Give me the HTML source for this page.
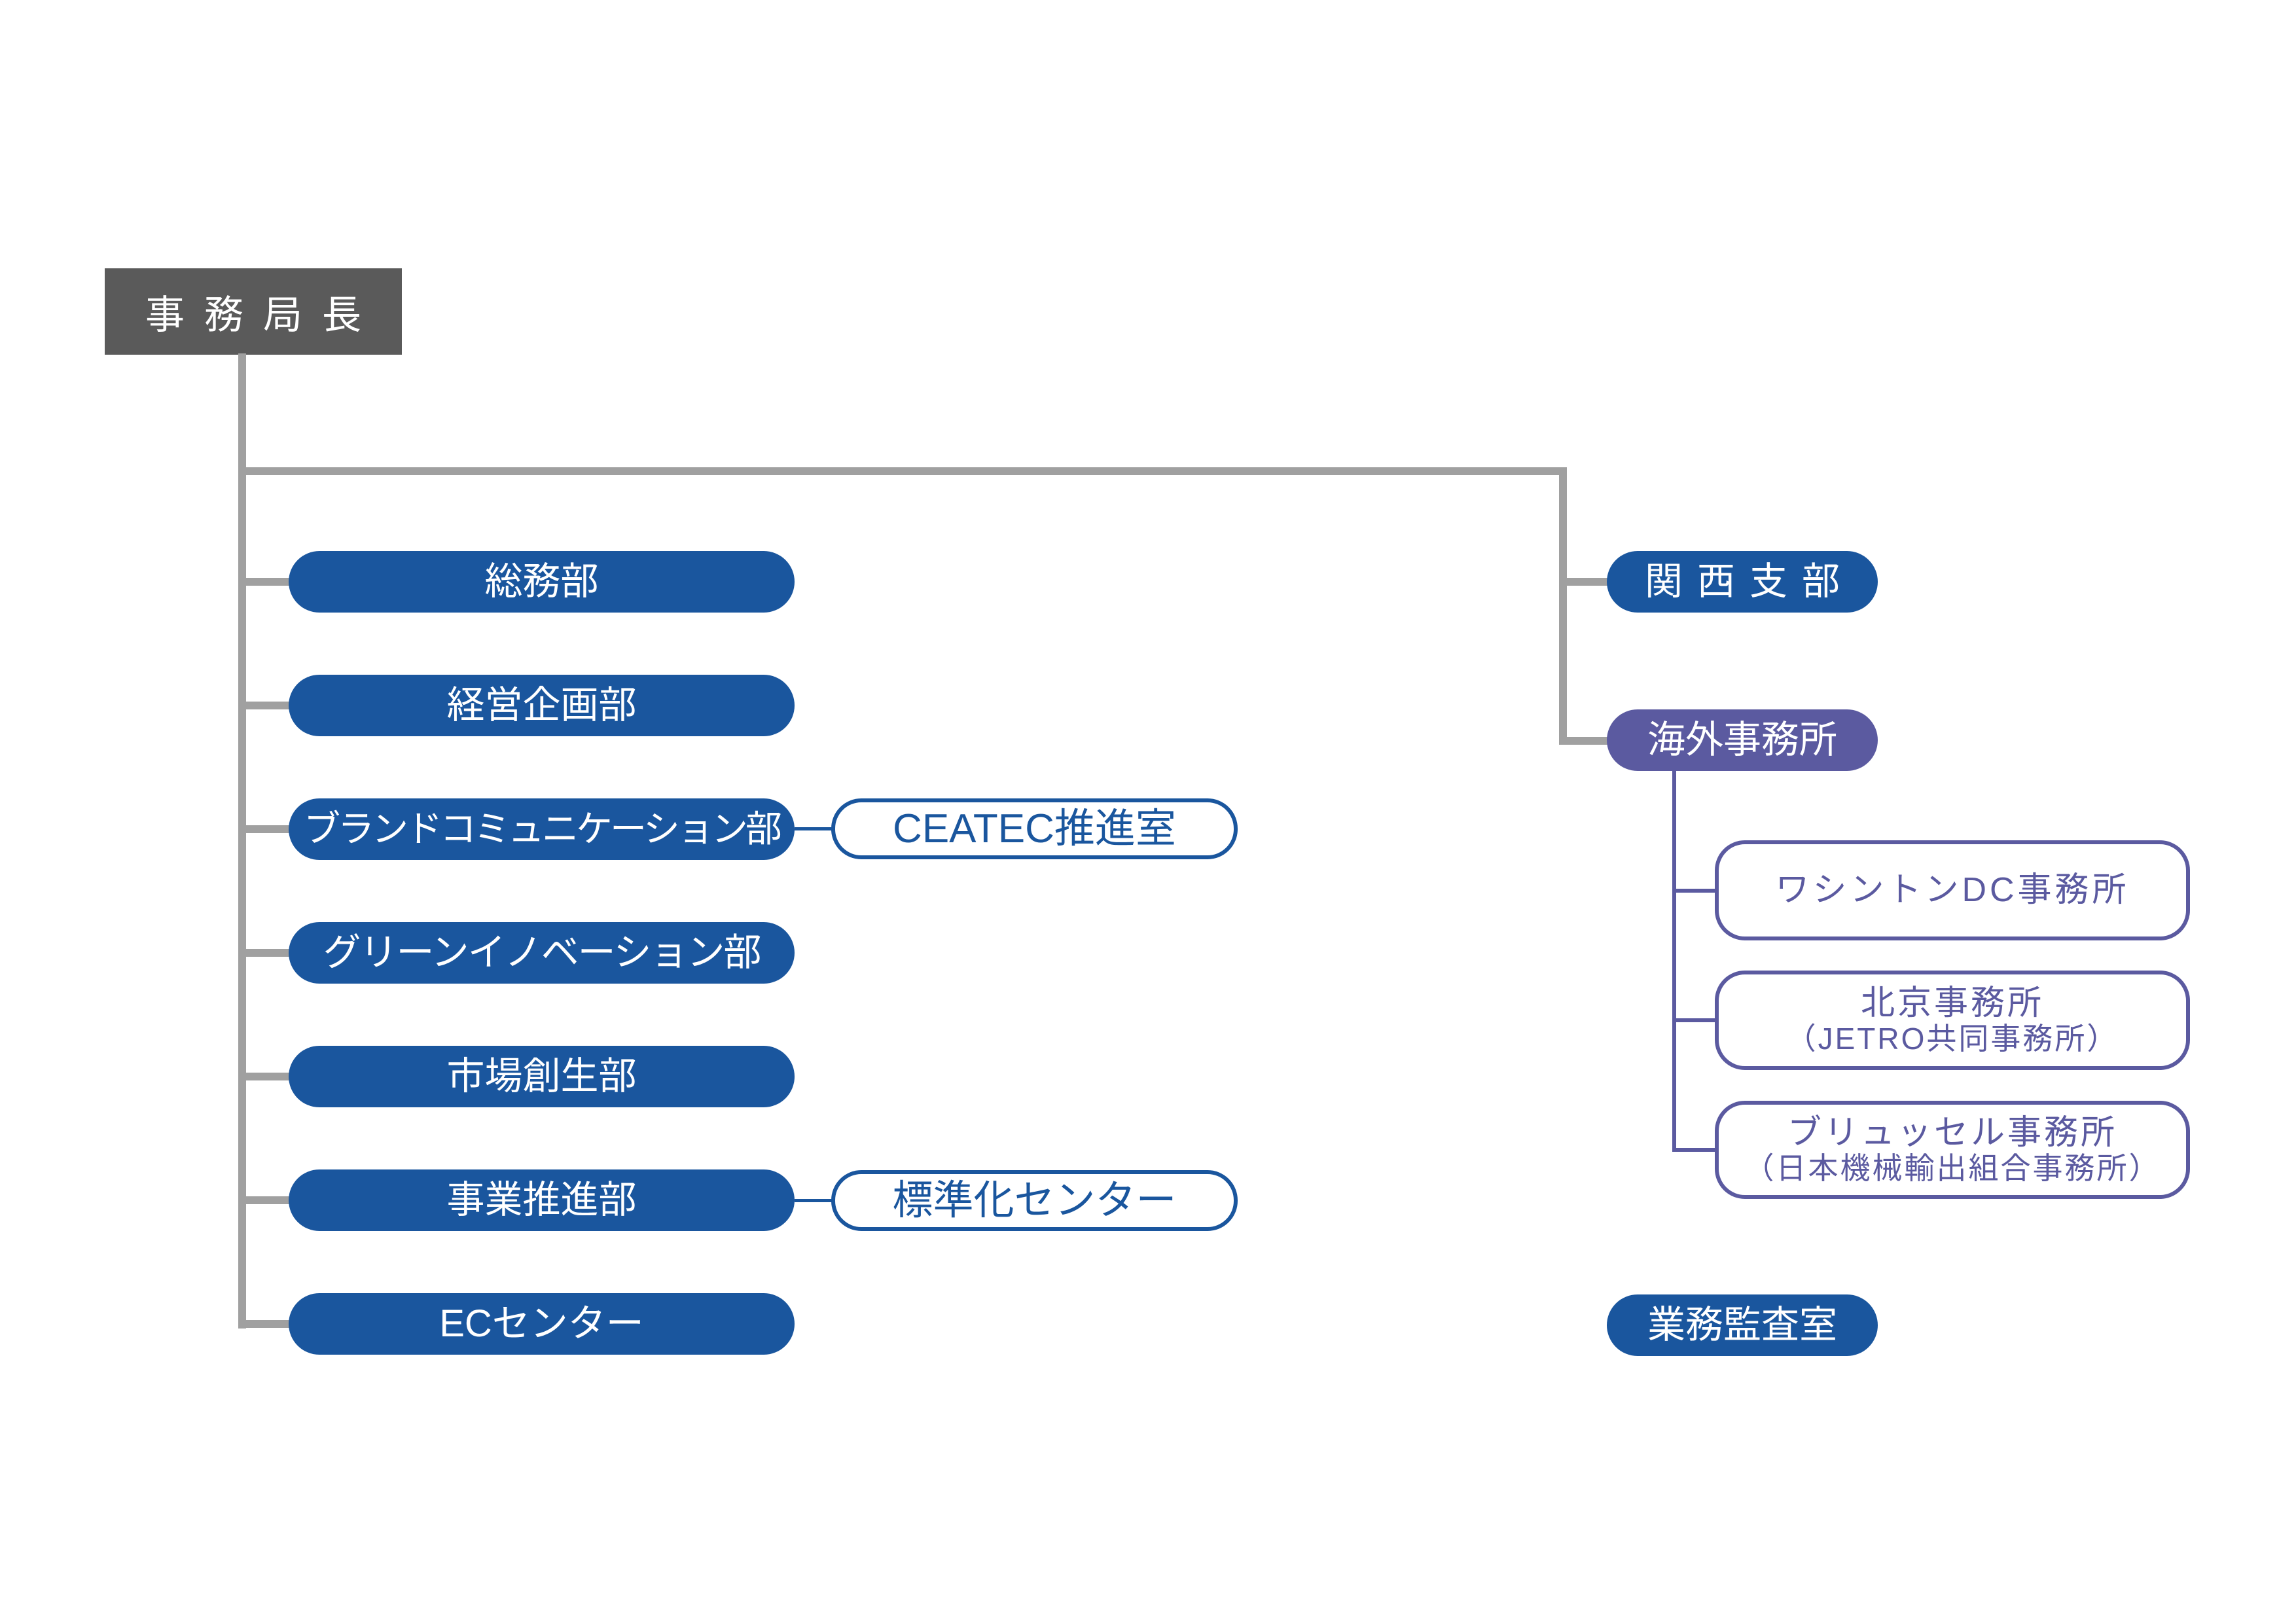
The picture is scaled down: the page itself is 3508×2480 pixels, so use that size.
<!DOCTYPE html>
<html><head><meta charset="utf-8"><style>
body{margin:0;width:3508px;height:2480px;background:#fff;position:relative;overflow:hidden;font-family:"Liberation Sans","Noto Sans CJK JP",sans-serif;}
div{position:absolute;box-sizing:border-box;}
.g{background:#a0a0a0;}
.p{left:441px;width:773px;height:94px;border-radius:47px;background:#1a569e;color:#fff;font-size:58px;display:flex;align-items:center;justify-content:center;line-height:1;white-space:nowrap;}
.o{left:1270px;width:621px;height:93px;border-radius:46px;border:6px solid #1a569e;color:#1a569e;font-size:62px;display:flex;align-items:center;justify-content:center;line-height:1;background:#fff;white-space:nowrap;}
.bl{background:#1a569e;left:1214px;width:60px;height:5px;}
.v{left:2620px;width:726px;border:6px solid #5b5aa0;border-radius:46px;color:#5b5aa0;display:flex;flex-direction:column;align-items:center;justify-content:center;line-height:1.1;background:#fff;white-space:nowrap;}
.pu{background:#5b5aa0;}
</style></head><body>
<div style="left:160px;top:410px;width:454px;height:132px;background:#5a5a5a;color:#fff;font-size:60px;display:flex;align-items:center;justify-content:center;letter-spacing:30px;padding-left:30px;">事務局長</div>
<div class="g" style="left:364px;top:540px;width:12px;height:1490px;"></div>
<div class="g" style="left:364px;top:714px;width:2030px;height:12px;"></div>
<div class="g" style="left:2382px;top:714px;width:12px;height:424px;"></div>
<div class="g" style="left:2382px;top:883px;width:80px;height:12px;"></div>
<div class="g" style="left:2382px;top:1126px;width:80px;height:12px;"></div>

<div class="g" style="left:364px;top:883px;width:80px;height:12px;"></div>
<div class="g" style="left:364px;top:1072px;width:80px;height:12px;"></div>
<div class="g" style="left:364px;top:1261px;width:80px;height:12px;"></div>
<div class="g" style="left:364px;top:1450px;width:80px;height:12px;"></div>
<div class="g" style="left:364px;top:1639px;width:80px;height:12px;"></div>
<div class="g" style="left:364px;top:1828px;width:80px;height:12px;"></div>
<div class="g" style="left:364px;top:2017px;width:80px;height:12px;"></div>

<div class="p" style="top:842px;">総務部</div>
<div class="p" style="top:1031px;">経営企画部</div>
<div class="p" style="top:1220px;font-size:56px;letter-spacing:-4px;">ブランドコミュニケーション部</div>
<div class="p" style="top:1409px;letter-spacing:-2px;">グリーンイノベーション部</div>
<div class="p" style="top:1598px;">市場創生部</div>
<div class="p" style="top:1787px;">事業推進部</div>
<div class="p" style="top:1976px;">ECセンター</div>

<div class="bl" style="top:1264px;"></div>
<div class="o" style="top:1220px;">CEATEC推進室</div>
<div class="bl" style="top:1832px;"></div>
<div class="o" style="top:1788px;">標準化センター</div>

<div class="p" style="left:2455px;width:414px;top:842px;letter-spacing:22px;padding-left:22px;">関西支部</div>
<div class="p" style="left:2455px;width:414px;top:1084px;background:#5b5aa0;">海外事務所</div>
<div class="p" style="left:2455px;width:414px;top:1978px;">業務監査室</div>

<div class="pu" style="left:2555px;top:1170px;width:6px;height:590px;"></div>
<div class="pu" style="left:2555px;top:1358px;width:70px;height:6px;"></div>
<div class="pu" style="left:2555px;top:1556px;width:70px;height:6px;"></div>
<div class="pu" style="left:2555px;top:1754px;width:70px;height:6px;"></div>

<div class="v" style="top:1284px;height:153px;font-size:52px;letter-spacing:5px;">ワシントンDC事務所</div>
<div class="v" style="top:1483px;height:152px;"><span style="font-size:52px;letter-spacing:4px;">北京事務所</span><span style="font-size:46px;letter-spacing:3px;">（JETRO共同事務所）</span></div>
<div class="v" style="top:1682px;height:150px;"><span style="font-size:52px;letter-spacing:4px;">ブリュッセル事務所</span><span style="font-size:46px;letter-spacing:3px;">（日本機械輸出組合事務所）</span></div>
</body></html>
